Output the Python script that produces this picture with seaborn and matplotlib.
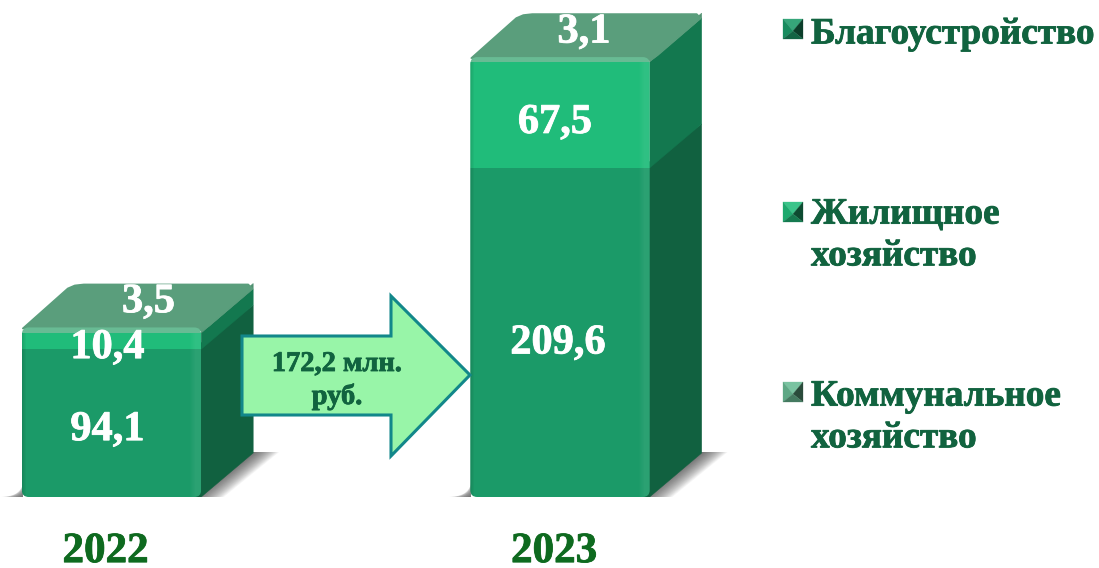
"""
Stacked 3D style columns, 2022 and 2023.
"""
import numpy as np
import pandas as pd
import seaborn as sns
import matplotlib.pyplot as plt
import matplotlib.patheffects as pe
from matplotlib.colors import to_rgb
from matplotlib.patches import FancyBboxPatch, Polygon, Rectangle
from matplotlib.transforms import Affine2D, ScaledTranslation

years = ['2022', '2023']
blago = [94.1, 209.6]
zhil = [10.4, 67.5]
komm = [3.5, 3.1]
series_names = ['Благоустройство', 'Жилищное\nхозяйство', 'Коммунальное\nхозяйство']
arrow_text = '172,2 млн.\nруб.'

front_colors = ['#1B9A68', '#20BC7A', '#68BB94']
side_colors = ['#116140', '#13784F', '#4F9070']
top_color = '#5A9E7C'
text_green = '#11633F'
W, H = 1099, 568
DX, DY = 52, 44

sns.set_theme(style='white')
plt.rcParams['font.family'] = ['Liberation Serif', 'DejaVu Sans']
plt.rcParams['font.weight'] = 'bold'

fig = plt.figure(figsize=(W / 100, H / 100), dpi=100)
# value 0 sits on the pixel row 497, 1.57 px per unit, 448.5 px between columns
ax = fig.add_axes([0, (H - 497) / H, 1, 497 / H])
ax.patch.set_alpha(0)

df = pd.DataFrame({'year': years, 'blago': blago, 'zhil': zhil, 'komm': komm})
bottom = np.zeros(2)
for col, c in zip(['blago', 'zhil', 'komm'], front_colors):
    sns.barplot(data=df, x='year', y=col, color=c, saturation=1, width=0.4,
                bottom=bottom, errorbar=None, ax=ax, zorder=3, linewidth=0)
    bottom = bottom + df[col].values
ax.set_xlim(-111.5 / 448.5, (W - 111.5) / 448.5)
ax.set_ylim(0, 497 / 1.57)
ax.set_xlabel('')
ax.set_ylabel('')
ax.set_yticks([])
sns.despine(ax=ax, left=True, bottom=True)


def heavy(t, c):
    t.set_path_effects([pe.withStroke(linewidth=0.6, foreground=c)])


ax.tick_params(axis='x', length=0, pad=26, labelsize=31, colors='#0E6A1F')
for lab in ax.get_xticklabels():
    lab.set_fontweight('bold')
    lab.set_transform(lab.get_transform() + ScaledTranslation(-6 / 100, 0, fig.dpi_scale_trans))
    heavy(lab, '#0E6A1F')

# pixel coordinates of the picture, y going down
px = Affine2D().scale(1, -1).translate(0, H)


def to_px(x, y):
    p = ax.transData.transform((x, y))
    return p[0], H - p[1]


def shade(c, other, t):
    a, b = np.array(to_rgb(c)), np.array(to_rgb(other))
    return tuple(a * (1 - t) + b * t)


label_offsets = [[(-4, 7), (-4, 7), (37, -28)], [(-2, 11), (-5, 8), (24, -27)]]

fig.canvas.draw()
for i in range(2):
    segs = [ax.patches[i], ax.patches[i + 2], ax.patches[i + 4]]
    x0, y_base = to_px(segs[0].get_x(), 0)
    x1, _ = to_px(segs[0].get_x() + segs[0].get_width(), 0)
    y_top = to_px(0, segs[2].get_y() + segs[2].get_height())[1]

    # floor shadows
    for k in range(22):
        left = x0 - 22 + k
        ax.add_patch(Polygon([(left, y_base), (x0 + 1, y_base), (x0 + 1, y_base - 15 * (k + 1) / 22)],
                             transform=px, fc='#333333', ec='none', alpha=0.045, zorder=1, clip_on=False))
    for k in range(26):
        w = 26 - k
        ax.add_patch(Polygon([(x1 - 6, y_base), (x1 - 6 + w * 1.1, y_base), (x1 + DX + w, y_base - DY - 1), (x1 + DX, y_base - DY - 1)],
                             transform=px, fc='#333333', ec='none', alpha=0.04, zorder=1, clip_on=False))

    # side faces, taken from the stacked bars
    for j, seg in enumerate(segs):
        lo = to_px(0, seg.get_y())[1]
        hi = to_px(0, seg.get_y() + seg.get_height())[1]
        pts = [(x1, lo), (x1 + DX, lo - DY), (x1 + DX, hi - DY), (x1, hi)]
        if j == 0:
            pts = [(x1 - 9, lo)] + pts[:3] + [(x1 - 9, hi)]
        ax.add_patch(Polygon(pts, transform=px, fc=side_colors[j], ec=side_colors[j], lw=0.3, zorder=2))

    # top face
    top = Polygon([(x0 + 1, y_top + 1), (x0 + 46, y_top - DY + 5), (x0 + 53, y_top - DY + 2), (x0 + 62, y_top - DY + 1),
                   (x1 + DX - 5, y_top - DY + 1), (x1 + DX - 1, y_top - DY + 5), (x1 + 8, y_top - 2), (x1 + 1, y_top + 3),
                   (x1 - 8, y_top + 2)],
                  transform=px, fc=top_color, ec=top_color, lw=1.2, joinstyle='round', zorder=2.5)
    ax.add_patch(top)

    # rounded corners of the front
    round_box = FancyBboxPatch((x0, y_top), x1 - x0, y_base - y_top,
                               boxstyle='round,pad=0,rounding_size=7', transform=px)
    for seg in segs:
        seg.set_clip_path(round_box)

    # soft light strip on the right and dark on the left of the front
    clip_top = to_px(0, segs[2].get_y())[1]
    for k in range(12):
        strip = Rectangle((x1 - 12 + k, clip_top), 1, y_base - clip_top, transform=px, fc='white', ec='none',
                          alpha=0.012 * min(k, 6), zorder=3.2, antialiased=False)
        ax.add_patch(strip)
        strip.set_clip_path(round_box)
    for k in range(4):
        strip = Rectangle((x0 + k, clip_top), 1, y_base - clip_top, transform=px, fc='black', ec='none',
                          alpha=0.06 * (4 - k) / 2, zorder=3.2, antialiased=False)
        ax.add_patch(strip)
        strip.set_clip_path(round_box)

    # value labels, the last one is cut by the top face
    for j, (seg, off) in enumerate(zip(segs, label_offsets[i])):
        cx = x0 + (x1 - x0) / 2 + off[0]
        lo = to_px(0, seg.get_y())[1]
        hi = to_px(0, seg.get_y() + seg.get_height())[1]
        cy = (lo + hi) / 2 + off[1]
        val = seg.get_height()
        t = ax.text(cx, cy, f'{val:.1f}'.replace('.', ','), transform=px, ha='center', va='center',
                    color='white', fontsize=30.5, fontweight='bold', zorder=5, clip_on=True)
        heavy(t, 'white')
        if j == 2:
            t.set_clip_path(top)

# arrow between the columns
arrow = Polygon([(242, 336), (391, 336), (391, 296), (470, 375), (391, 456), (391, 415), (242, 415)],
                transform=px, fc='#98F5A8', ec='#12878A', lw=2.2, joinstyle='miter', zorder=4, clip_on=False)
ax.add_patch(arrow)
at = ax.text(337, 381, arrow_text, transform=px, ha='center', va='center', color=text_green,
             fontsize=20.5, fontweight='bold', linespacing=1.35, zorder=5)
heavy(at, text_green)

# legend on the right, bevelled square markers
legend_y = [34, 235, 417]
marker_y = [29, 212, 392]
for name, ty, my, c in zip(series_names, legend_y, marker_y, front_colors):
    s = 10
    mx = 793
    apex = (mx, my + 2)
    faces = [([(mx - s, my - s), (mx + s, my - s), apex], shade(c, 'white', 0.12)),
             ([(mx - s, my - s), (mx - s, my + s), apex], shade(c, 'black', 0.1)),
             ([(mx + s, my - s), (mx + s, my + s), apex], shade(c, 'black', 0.6)),
             ([(mx - s, my + s), (mx + s, my + s), apex], shade(c, 'black', 0.35))]
    for pts, fc in faces:
        ax.add_patch(Polygon(pts, transform=px, fc=fc, ec=fc, lw=0.2, zorder=4, clip_on=False))
    lt = ax.text(811, ty, name, transform=px, ha='left', va='center', color=text_green,
                 fontsize=26.8, fontweight='bold', linespacing=1.25, zorder=5, clip_on=False)
    heavy(lt, text_green)

fig.savefig('out.png', dpi=100)
